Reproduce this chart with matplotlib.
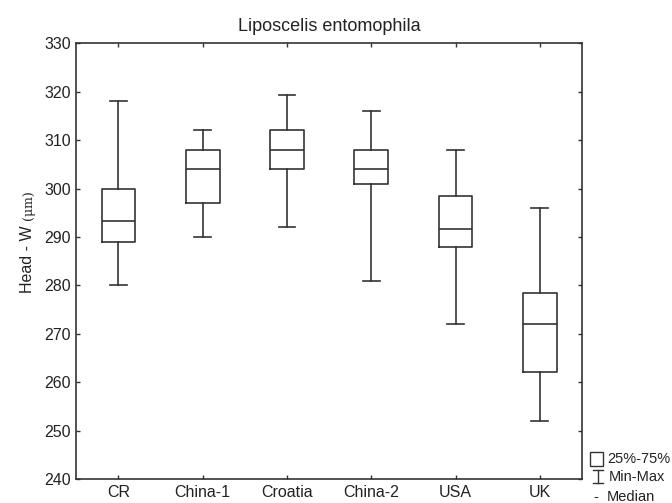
import matplotlib
matplotlib.use("Agg")
import matplotlib.pyplot as plt
from matplotlib.patches import Rectangle
from matplotlib.lines import Line2D

plt.rcParams['font.family'] = ['Liberation Sans', 'DejaVu Sans']

populations = ["CR", "China-1", "Croatia", "China-2", "USA", "UK"]
mins = [280, 290, 292, 281, 272, 252]
q1s = [289, 297, 304, 301, 288, 262]
medians = [293.3, 304, 308, 304, 291.7, 272]
q3s = [300, 308, 312, 308, 298.5, 278.4]
maxs = [318, 312, 319.3, 316, 308, 296]

W, H = 672, 503
ink = "#333333"


def fx(x):
    return x / W


def fy(y):
    return 1 - y / H


fig = plt.figure(figsize=(W / 100, H / 100), dpi=100)
ax = fig.add_axes([fx(76.3), fy(479), fx(582) - fx(76.3), fy(43.3) - fy(479)])

stats = []
for name, lo, a, m, b, hi in zip(populations, mins, q1s, medians, q3s, maxs):
    stats.append(dict(label=name, whislo=lo, q1=a, med=m, q3=b, whishi=hi, fliers=[]))

style = dict(color=ink, linewidth=1.2)
ax.bxp(stats, positions=range(1, len(stats) + 1), widths=0.4, capwidths=0.2,
       showfliers=False, boxprops=style, whiskerprops=style, capprops=style,
       medianprops=style)

ax.set_xlim(0.5, len(stats) + 0.5)
ax.set_ylim(240, 330)
ax.set_yticks(range(240, 331, 10))
ax.set_xticks(range(1, len(stats) + 1))
ax.set_xticklabels(populations)
ax.tick_params(direction='in', length=3, width=1, color=ink, labelsize=11.5,
               labelcolor='#222222', top=True, right=True, pad=4)
for s in ax.spines.values():
    s.set_color(ink)
    s.set_linewidth(1.2)

ax.set_title("Liposcelis entomophila", fontsize=13, pad=9, color='#222222')

# y label with smaller unit
fig.text(fx(32), fy(221), "Head - W ", rotation=90, rotation_mode='anchor',
         ha='right', va='baseline', fontsize=11.5, color='#222222')
fig.text(fx(32), fy(220), "(μm)", rotation=90, rotation_mode='anchor',
         ha='left', va='baseline', fontsize=9, family=['DejaVu Serif'], color='#222222')

# legend outside the axes
fig.add_artist(Rectangle((fx(590), fy(465.7)), fx(603) - fx(590), fy(452.3) - fy(465.7),
                         transform=fig.transFigure, fill=False, edgecolor=ink, linewidth=1))
fig.text(fx(607), fy(459), "25%-75%", fontsize=10.5, va='center', color='#222222')
for seg in [((593.3, 603.3), (470, 470)), ((598.3, 598.3), (470, 483.3)),
            ((593.3, 603.3), (483.3, 483.3))]:
    fig.add_artist(Line2D([fx(v) for v in seg[0]], [fy(v) for v in seg[1]],
                          transform=fig.transFigure, color=ink, linewidth=1))
fig.text(fx(609), fy(477), "Min-Max", fontsize=10.5, va='center', color='#222222')
fig.text(fx(593), fy(497), "-", fontsize=10.5, va='center', color='#222222')
fig.text(fx(607), fy(497), "Median", fontsize=10.5, va='center', color='#222222')

fig.savefig("out.png", dpi=100)
